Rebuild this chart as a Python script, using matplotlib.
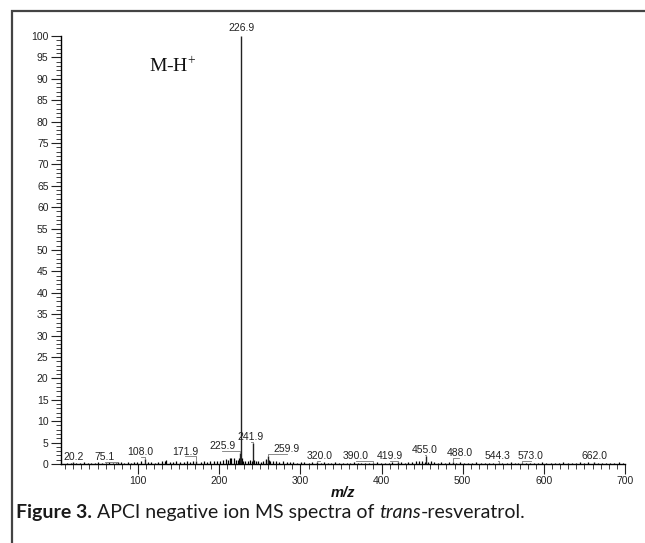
import matplotlib
matplotlib.use("Agg")
import matplotlib.pyplot as plt
from matplotlib.patches import Rectangle
from matplotlib.ticker import MultipleLocator

plt.rcParams["mathtext.fontset"] = "stix"

# labelled peaks (m/z, relative intensity %)
peak_mz = [20.2, 75.1, 108.0, 171.9, 225.9, 226.9, 241.9, 259.9, 320.0,
           390.0, 419.9, 455.0, 488.0, 544.3, 573.0, 662.0]
peak_int = [0.4, 0.4, 1.2, 0.6, 2.6, 100.0, 4.8, 1.8, 0.4,
            0.3, 0.4, 1.9, 0.5, 0.3, 0.3, 0.4]
peak_labels = ["20.2", "75.1", "108.0", "171.9", "225.9", "226.9", "241.9", "259.9",
               "320.0", "390.0", "419.9", "455.0", "488.0", "544.3", "573.0", "662.0"]

# small unlabelled peaks / baseline noise
noise_mz = [13, 17, 24, 29, 33, 38, 42, 47, 51, 56, 61, 64, 69, 73, 79, 83, 87, 91,
            95, 99, 103, 112, 116, 121, 125, 129, 133, 135, 139, 143, 147, 152, 156,
            160, 164, 168, 177, 181, 185, 189, 193, 197, 201, 205, 208, 211, 213, 215,
            218, 221, 223, 224.9, 227.9, 229, 232, 235, 238, 240.9, 242.9, 245, 248,
            251, 254, 257, 258, 261, 263, 266, 270, 274, 278, 283, 287, 291, 296, 301,
            305, 310, 314, 325, 329, 334, 338, 343, 347, 352, 357, 361, 366, 371, 375,
            380, 384, 395, 399, 404, 409, 413, 424, 429, 433, 438, 442, 446, 450, 453,
            457, 461, 465, 469, 473, 478, 483, 492, 497, 502, 507, 512, 517, 522, 527,
            532, 537, 549, 554, 559, 564, 568, 578, 583, 588, 593, 598, 603, 609, 614,
            619, 624, 630, 635, 640, 645, 650, 655, 667, 672, 677, 682, 687, 692, 697]
noise_int = [0.2, 0.3, 0.3, 0.2, 0.4, 0.3, 0.2, 0.3, 0.4, 0.2, 0.3, 0.4, 0.3, 0.2, 0.5,
             0.3, 0.4, 0.3, 0.5, 0.4, 0.6, 0.5, 0.4, 0.3, 0.5, 0.6, 0.7, 0.9, 0.5, 0.4,
             0.6, 0.5, 0.4, 0.6, 0.5, 0.7, 0.5, 0.6, 0.5, 0.7, 0.6, 0.8, 0.6, 0.9, 1.2,
             1.0, 1.5, 1.3, 1.4, 0.9, 1.0, 1.4, 1.3, 0.8, 0.7, 0.6, 0.9, 0.8, 1.0, 0.6,
             0.7, 0.5, 0.8, 0.9, 1.2, 1.0, 0.7, 0.6, 0.7, 0.5, 0.6, 0.4, 0.5, 0.4, 0.3,
             0.4, 0.5, 0.3, 0.4, 0.3, 0.4, 0.3, 0.2, 0.4, 0.3, 0.3, 0.2, 0.3, 0.4, 0.3,
             0.2, 0.3, 0.3, 0.4, 0.3, 0.2, 0.3, 0.5, 0.4, 0.3, 0.5, 0.4, 0.6, 0.7, 0.6,
             0.5, 0.4, 0.6, 0.4, 0.3, 0.5, 0.3, 0.4, 0.3, 0.4, 0.3, 0.2, 0.3, 0.4, 0.3,
             0.3, 0.2, 0.3, 0.2, 0.3, 0.4, 0.2, 0.3, 0.3, 0.2, 0.3, 0.2, 0.4, 0.3, 0.2,
             0.3, 0.3, 0.4, 0.3, 0.2, 0.3, 0.4, 0.3, 0.5, 0.3, 0.2, 0.3, 0.3, 0.2, 0.4,
             0.3]

# label placement: shift along m/z and height of label centre (style only)
label_dx = [0, -16, -5, -14, -22, 0, -3, 23, 4, -22, -10, -2, 8, -1, 11, 0]
label_y = [1.6, 1.6, 2.7, 2.9, 4.2, 101.8, 6.3, 3.5, 1.9, 1.8, 1.8, 3.3, 2.5, 1.8, 1.8, 1.8]

fig = plt.figure(figsize=(6.45, 5.43), dpi=100)
ax = fig.add_axes([61 / 645, 1 - 464 / 543, (625 - 61) / 645, (464 - 36) / 543])

ax.vlines(noise_mz, 0, noise_int, color="black", lw=0.9)
ax.vlines(peak_mz, 0, peak_int, color="#222222", lw=1.0)

for mz, inten, lab, dx, ly in zip(peak_mz, peak_int, peak_labels, label_dx, label_y):
    tx = mz + dx
    ax.text(tx, ly, lab, ha="center", va="center", fontsize=7.5,
            family="Liberation Sans", color="#222222")
    if dx != 0:
        # leader line from label foot to peak top
        foot = ly - 1.1
        ax.plot([tx, mz, mz], [foot, foot, inten], color="#777777", lw=0.6,
                clip_on=False)

ax.text(142, 93, r"M-H$^{\mathregular{+}}$", ha="center", va="center", fontsize=14,
        family="Liberation Serif", color="#111111")

ax.set_xlim(5, 700)
ax.set_ylim(0, 100)
ax.spines["top"].set_visible(False)
ax.spines["right"].set_visible(False)
ax.spines["left"].set_linewidth(1.0)
ax.spines["bottom"].set_linewidth(1.0)

ax.set_xticks([100, 200, 300, 400, 500, 600, 700])
ax.xaxis.set_minor_locator(MultipleLocator(10))
ax.set_yticks(range(0, 101, 5))
ax.yaxis.set_minor_locator(MultipleLocator(1))
ax.tick_params(axis="both", which="major", direction="out", length=7, width=0.8,
               labelsize=7.5, colors="#222222", pad=2)
ax.tick_params(axis="both", which="minor", direction="out", length=3.5, width=0.6,
               colors="#222222")
for t in ax.get_xticklabels() + ax.get_yticklabels():
    t.set_family("Liberation Sans")

fig.text(343 / 645, 1 - 493 / 543, "m/z", ha="center", va="center", fontsize=10.5,
         family="Liberation Sans", weight="bold", style="italic", color="#111111")

# outer frame (open to the right and bottom, as cropped in the source)
fig.patches.append(Rectangle((12 / 645, -0.05), 1.1, 1 - 11 / 543 + 0.05,
                             transform=fig.transFigure, fill=False,
                             edgecolor="#444444", lw=1.6))

# caption with mixed styles
parts = [("Figure 3.", "bold", "normal"),
         (" APCI negative ion MS spectra of ", "normal", "normal"),
         ("trans", "normal", "italic"),
         ("-resveratrol.", "normal", "normal")]
fig.canvas.draw()
renderer = fig.canvas.get_renderer()
x = 16
for txt, w, st in parts:
    t = fig.text(x / 645, 1 - 518 / 543, txt, ha="left", va="baseline",
                 fontsize=14, family="Lato", weight=w, style=st, color="#1a1a1a")
    x += t.get_window_extent(renderer).width

fig.savefig("out.png", dpi=100)
